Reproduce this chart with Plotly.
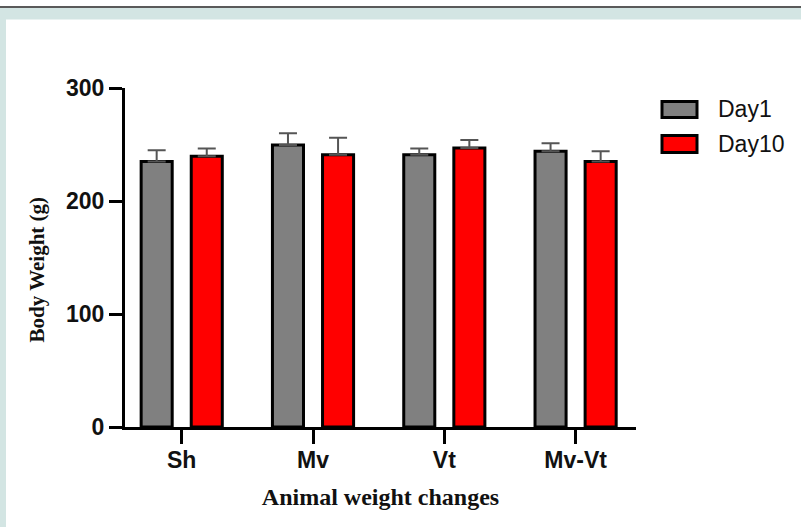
import plotly.graph_objects as go

categories = ["Sh", "Mv", "Vt", "Mv-Vt"]
day1 = [235, 249.5, 241, 244]
day1_err = [10, 10.5, 5.5, 7]
day10 = [239.5, 241, 247, 235]
day10_err = [7, 15, 7, 9]
series_names = ["Day1", "Day10"]
y_ticks = [0, 100, 200, 300]

W, H = 801, 527
L, R, T, B = 125, 165, 87.5, 100.3
PW, PH = W - L - R, H - T - B

def px(x):
    return (x - L) / PW

def py(y):
    return (H - B - y) / PH

fig = go.Figure()
colors = ["#808080", "#ff0000"]
for name, vals, errs, col in zip(series_names, [day1, day10], [day1_err, day10_err], colors):
    fig.add_trace(go.Bar(
        x=categories, y=vals, name=name,
        marker=dict(color=col, line=dict(color="black", width=3)),
        error_y=dict(type="data", array=errs, symmetric=False,
                     arrayminus=[0] * len(errs), color="#555555",
                     thickness=2, width=9),
        showlegend=False,
    ))

shapes = []
# frame decoration
shapes.append(dict(type="rect", xref="paper", yref="paper", x0=px(-5), x1=px(W + 5),
                   y0=py(19), y1=py(7), fillcolor="#d3e5e3", line=dict(width=0), layer="below"))
shapes.append(dict(type="rect", xref="paper", yref="paper", x0=px(-5), x1=px(6),
                   y0=py(H + 5), y1=py(7), fillcolor="#d3e5e3", line=dict(width=0), layer="below"))
shapes.append(dict(type="rect", xref="paper", yref="paper", x0=px(-5), x1=px(W + 5),
                   y0=py(7.5), y1=py(5.5), fillcolor="#5a5a5a", line=dict(width=0), layer="below"))

annotations = []
# custom legend
leg_rows = [(101, 117, 109), (135, 152, 143.5)]
for (y0, y1, yc), name, col in zip(leg_rows, series_names, colors):
    shapes.append(dict(type="rect", xref="paper", yref="paper", x0=px(662), x1=px(697),
                       y0=py(y1), y1=py(y0), fillcolor=col, line=dict(color="black", width=3)))
    annotations.append(dict(xref="paper", yref="paper", x=px(716), y=py(yc), text=name,
                            showarrow=False, xanchor="left", yanchor="middle",
                            font=dict(family="Liberation Sans, Arial", size=23, color="#111")))

# y-axis title
annotations.append(dict(xref="paper", yref="paper", x=px(37), y=py(270), text="Body Weight (g)",
                        textangle=-90, showarrow=False, xanchor="center", yanchor="middle",
                        font=dict(family="Liberation Serif, Times New Roman", size=21, color="#111", weight="bold")))

fig.update_layout(
    width=W, height=H,
    margin=dict(l=L, r=R, t=T, b=B, autoexpand=False),
    paper_bgcolor="white", plot_bgcolor="white",
    barmode="group", bargap=0.237, bargroupgap=0.38,
    shapes=shapes, annotations=annotations,
    xaxis=dict(
        type="category", range=[-0.432, 3.46],
        showline=True, linecolor="black", linewidth=3,
        ticks="outside", ticklen=14, tickwidth=3, tickcolor="black",
        ticklabelstandoff=-4,
        tickfont=dict(family="Liberation Sans, Arial", size=23, color="#111", weight="bold"),
        showgrid=False, zeroline=False,
        title=dict(text="Animal weight changes", standoff=17,
                   font=dict(family="Liberation Serif, Times New Roman", size=24, color="#111", weight="bold")),
    ),
    yaxis=dict(
        range=[0, 300], tickvals=y_ticks,
        showline=True, linecolor="black", linewidth=3,
        ticks="outside", ticklen=13, tickwidth=3, tickcolor="black",
        tickfont=dict(family="Liberation Sans, Arial", size=23, color="#111", weight="bold"),
        showgrid=False, zeroline=False,
    ),
)

fig.write_html("out.html", config={"displayModeBar": False},
               post_script="document.body.style.margin='0';document.body.style.overflow='hidden';")
